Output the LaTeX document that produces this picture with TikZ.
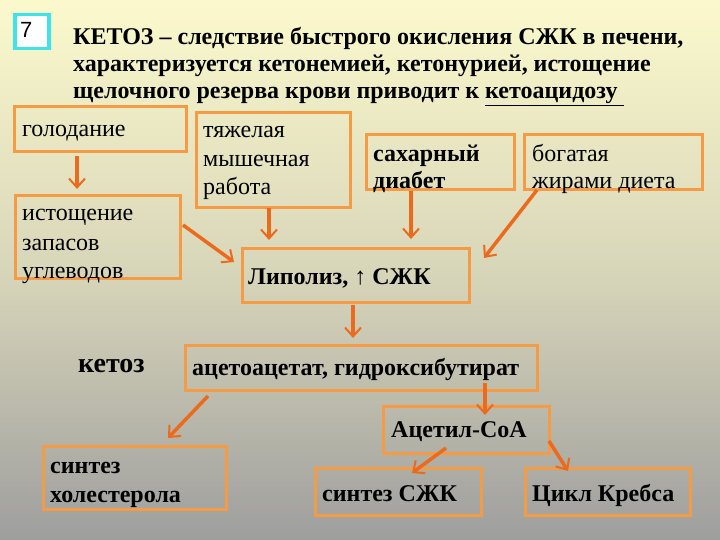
\documentclass[tikz,border=0pt]{standalone}
\usepackage{fontspec}
\setmainfont{Liberation Serif}
\newfontfamily\numfont{Liberation Sans}
\usetikzlibrary{arrows.meta,calc}
\definecolor{boxor}{HTML}{F59B45}
\definecolor{arror}{HTML}{EB6A1C}
\definecolor{bgtop}{HTML}{FBF9CC}
\definecolor{bgmid}{HTML}{D8D6B9}
\definecolor{bgbot}{HTML}{9E9E9E}
\definecolor{cyanb}{HTML}{3FE3EC}
\tikzset{
  box/.style={draw=boxor, line width=3pt, rectangle, inner sep=0pt, anchor=north west},
  txt/.style={anchor=base west, inner sep=0pt, font=\fontsize{24}{28}\selectfont},
  btxt/.style={anchor=base west, inner sep=0pt, font=\fontsize{24}{28}\selectfont\bfseries},
  ttl/.style={anchor=base west, inner sep=0pt, font=\fontsize{24}{28}\selectfont\bfseries},
  arr/.style={draw=arror, line width=3.5pt, -{Straight Barb[length=9pt,width=16pt,line width=2pt]}}
}
\begin{document}
\begin{tikzpicture}[x=1pt,y=-1pt]
\useasboundingbox (0,0) rectangle (720,540);
\shade[top color=bgtop, bottom color=bgbot, middle color=bgmid] (0,0) rectangle (720,540);
% number box
\node[draw=cyanb, fill=white, line width=3.5pt, minimum width=34pt, minimum height=34pt, inner sep=0pt, anchor=north west] (num) at (13,13) {};
\node[anchor=base west, inner sep=0pt, font=\numfont\fontsize{22}{24}\selectfont] (numt) at (20,38) {7};
% title
\node[ttl] (t1) at (73,45) {КЕТОЗ – следствие быстрого окисления СЖК в печени,};
\node[ttl] (t2) at (73,72) {характеризуется кетонемией, кетонурией, истощение};
\node[ttl] (t3) at (73,99) {щелочного резерва крови приводит к \underline{кетоацидозу\ }};
% boxes
\node[box, minimum width=172pt, minimum height=45pt] (g) at (13,105) {};
\node[box, minimum width=154pt, minimum height=95pt] (t) at (195,111) {};
\node[box, minimum width=148pt, minimum height=55pt] (s) at (365,133) {};
\node[box, minimum width=178pt, minimum height=55pt] (b) at (523,133) {};
\node[box, minimum width=165pt, minimum height=83pt] (i) at (14,194) {};
\node[box, minimum width=227pt, minimum height=54pt] (l) at (241,247) {};
\node[box, minimum width=352pt, minimum height=45pt] (a) at (184,344) {};
\node[box, minimum width=166pt, minimum height=47pt] (c) at (382,405) {};
\node[box, minimum width=183pt, minimum height=63pt] (h) at (42,445) {};
\node[box, minimum width=166pt, minimum height=47pt] (f) at (314,467) {};
\node[box, minimum width=165pt, minimum height=47pt] (k) at (524,467) {};
% texts
\node[txt] (gt) at (22,137) {голодание};
\node[txt] (tt1) at (203,138) {тяжелая};
\node[txt] (tt2) at (203,167) {мышечная};
\node[txt] (tt3) at (203,195) {работа};
\node[btxt] (st1) at (373,162) {сахарный};
\node[btxt] (st2) at (373,189) {диабет};
\node[txt] (bt1) at (532,162) {богатая};
\node[txt] (bt2) at (532,189) {жирами диета};
\node[txt] (it1) at (22,221) {истощение};
\node[txt] (it2) at (22,250) {запасов};
\node[txt] (it3) at (22,278) {углеводов};
\node[btxt] (lt) at (248,284) {Липолиз, ↑ СЖК};
\node[anchor=base west, inner sep=0pt, font=\fontsize{28}{32}\selectfont\bfseries] (kt) at (78,372) {кетоз};
\node[btxt] (at) at (192,375) {ацетоацетат, гидроксибутират};
\node[btxt] (ct) at (391,437) {Ацетил-CoA};
\node[btxt] (ht1) at (50,473) {синтез};
\node[btxt] (ht2) at (50,502) {холестерола};
\node[btxt] (ft) at (322,501) {синтез СЖК};
\node[btxt] (kkt) at (532,501) {Цикл Кребса};
% arrows
\draw[arr] ($(g.south west)+(64,3)$) -- ($(i.north west)+(63,-5)$);
\draw[arr] ($(i.north east)+(1,31)$) -- ($(l.north west)+(-7,15)$);
\draw[arr] ($(t.south west)+(74,-1)$) -- ($(l.north west)+(28,-7)$);
\draw[arr] ($(s.south west)+(46,0)$) -- ($(l.north west)+(170,-8)$);
\draw[arr] ($(b.south west)+(14,-1)$) -- ($(l.north east)+(13,11)$);
\draw[arr] ($(l.south west)+(112,1)$) -- ($(a.north west)+(169,-6)$);
\draw[arr] ($(a.south west)+(24,4)$) -- ($(h.north west)+(126,-7)$);
\draw[arr] ($(a.south west)+(301,-9)$) -- ($(c.north west)+(103,10)$);
\draw[arr] ($(c.south west)+(64,-7)$) -- ($(f.north west)+(98,6)$);
\draw[arr] ($(c.south east)+(-2,-14)$) -- ($(k.north west)+(44,4)$);
\end{tikzpicture}
\end{document}
